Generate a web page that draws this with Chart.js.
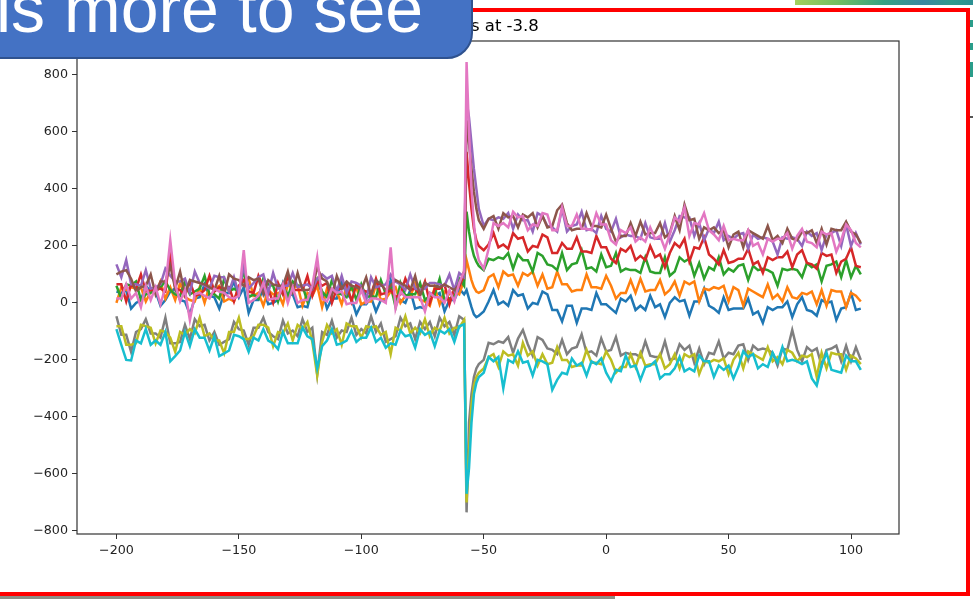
<!DOCTYPE html>
<html>
<head>
<meta charset="utf-8">
<title>Trials at -3.8</title>
<script src="https://cdn.jsdelivr.net/npm/chart.js@4.4.1/dist/chart.umd.min.js"></script>
<style>
  html, body { margin: 0; padding: 0; background: #fff; overflow: hidden; }
  .page { position: relative; width: 973px; height: 599px; overflow: hidden; background: #fff; }
  .chart-box { position: absolute; left: 0; top: 0; width: 973px; height: 599px; }
  .red-frame { position: absolute; left: -10px; top: 8px; width: 980px; height: 588px; box-sizing: border-box; border: 4px solid #ff0000; }
  .callout { position: absolute; left: -40px; top: -40px; width: 513px; height: 99px; box-sizing: border-box; background: #4472c4; border: 2px solid #2f528f; border-radius: 26px; }
  .callout-text { position: absolute; left: -4px; top: -26px; font: 68px/68px "Liberation Sans", Arial, sans-serif; color: #fff; white-space: nowrap; }
  .strip-top { position: absolute; left: 795px; top: 0; width: 178px; height: 5px;
    background: linear-gradient(to right, #a3d05c 0%, #6fbf62 25%, #35a283 50%, #3b87a0 72%, #2f9b8c 88%, #2b8f92 100%); }
  .strip-bottom { position: absolute; left: 0; top: 596px; width: 615px; height: 3px; background: #8e8e86; }
  .edge { position: absolute; left: 970px; width: 3px; background: #2a9d8a; }
</style>
</head>
<body>
<div class="page">
  <div class="chart-box"><canvas id="tracesChart"></canvas></div>
  <div class="red-frame"></div>
  <div class="callout"></div>
  <div class="callout-text">is more to see</div>
  <div class="strip-top"></div>
  <div class="strip-bottom"></div>
  <div class="edge" style="top:20px;height:7px"></div>
  <div class="edge" style="top:43px;height:7px"></div>
  <div class="edge" style="top:62px;height:15px"></div>
  <div class="edge" style="top:116px;height:2px;background:#555"></div>
</div>
<script>
const sampleTimes = [
  -200, -198, -196, -194, -192, -190, -188, -186, -184, -182, -180, -178,
  -176, -174, -172, -170, -168, -166, -164, -162, -160, -158, -156, -154,
  -152, -150, -148, -146, -144, -142, -140, -138, -136, -134, -132, -130,
  -128, -126, -124, -122, -120, -118, -116, -114, -112, -110, -108, -106,
  -104, -102, -100, -98, -96, -94, -92, -90, -88, -86, -84, -82,
  -80, -78, -76, -74, -72, -70, -68, -66, -64, -62, -60, -58,
  -57, -56, -55, -54, -53, -52,
  -50, -48, -46, -44, -42, -40, -38, -36, -34, -32, -30, -28, -26,
  -24, -22, -20, -18, -16, -14, -12, -10, -8, -6, -4, -2, 0,
  2, 4, 6, 8, 10, 12, 14, 16, 18, 20, 22, 24, 26,
  28, 30, 32, 34, 36, 38, 40, 42, 44, 46, 48, 50, 52,
  54, 56, 58, 60, 62, 64, 66, 68, 70, 72, 74, 76, 78,
  80, 82, 84, 86, 88, 90, 92, 94, 96, 98, 100, 102, 104
];

const traceBlue = [
  40, 35, 45, -20, 0, 10, 60, 40, 40, -10, 10, 40,
  50, 10, 5, -40, 15, 20, 65, 25, 20, -20, 35, 35,
  75, 20, 55, -35, 10, 10, 50, -5, 0, 10, 70, 25,
  30, -15, -10, -15, 50, 65, 40, -20, 15, 15, 75, 30,
  15, -40, -5, -5, 20, -30, 10, 10, 80, 0, 10, 0,
  45, -20, -15, -20, 35, 25, 35, -30, 10, 10, 50, 30,
  45, 15, -15, -40, -50, -45,
  -30, 5, 45, -5, 5, -10, 45, 25, 30, -20, 0, -5, 40,
  30, -25, -25, -65, -10, -10, -70, -20, -20, -25, 35, -5, -5,
  -20, -35, 15, 5, 25, -25, -10, -25, 25, -15, -5, -50, 0,
  20, 5, 10, -45, 5, 5, 50, -10, -20, -35, 20, -25, -20,
  -20, -20, 15, -40, -30, -70, -15, -25, -15, -15, 5, -50, -5,
  20, -25, -30, -45, 10, 0, 5, -60, -20, -15, 35, -25, -20
];

const traceOrange = [
  0, 55, 45, 55, 50, 55, 5, 40, 35, 75, 15, 55,
  10, 70, 20, 10, 5, 55, 0, 60, 50, 60, 5, 15,
  5, 60, 75, 85, 25, 35, -10, 45, 30, 35, -5, 65,
  50, 60, -10, 35, 25, 60, -15, 50, 35, 40, -5, 60,
  45, 55, -5, 5, 5, 65, 10, 15, 40, 55, 0, 25,
  20, 70, 10, 5, -10, 55, -5, 40, 30, 40, 30, 80,
  150, 115, 80, 55, 40, 35,
  45, 90, 100, 55, 110, 95, 100, 60, 105, 95, 110, 60, 100,
  50, 55, 110, 65, 65, 40, 45, 45, 100, 55, 55, 50, 95,
  60, 15, 35, 35, 80, 35, 85, 40, 45, 45, 80, 30, 45,
  75, 25, 75, 65, 75, 5, 50, 45, 55, 50, 60, 5, 55,
  45, -10, 50, 40, 30, 20, 65, 15, 30, 5, 55, 20, 15,
  35, 30, 40, -5, 45, -10, 45, 40, 40, -15, 35, 25, 5
];

const traceGreen = [
  60, 15, 65, 60, 75, 10, 30, 35, 50, 55, 75, 45,
  30, 25, 75, 30, 40, 50, 95, 30, 30, 15, 85, 40,
  50, 40, 115, 20, 30, 15, 85, 65, 60, 5, 65, 20,
  75, 60, 60, 5, 60, 85, 40, 20, 80, 35, 30, 20,
  60, 10, 65, 20, 25, 20, 80, 30, 60, -15, 70, 25,
  30, 30, 70, 10, 25, 30, 85, 10, 15, 25, 85, 60,
  320, 250, 200, 165, 145, 130,
  115, 155, 150, 160, 155, 175, 120, 170, 150, 150, 110, 175, 165,
  135, 130, 115, 175, 115, 135, 140, 185, 120, 125, 110, 170, 125,
  130, 175, 110, 120, 115, 115, 105, 160, 110, 105, 105, 160, 95,
  110, 160, 145, 155, 95, 140, 85, 125, 115, 160, 100, 120, 110,
  130, 135, 80, 130, 115, 120, 115, 105, 60, 120, 115, 120, 115,
  90, 140, 125, 135, 75, 130, 135, 145, 90, 150, 90, 130, 100
];

const traceRed = [
  65, 65, 5, 65, 50, 100, 40, 45, 45, 50, 40, 170,
  50, 45, 25, 75, 25, 30, 45, 95, 40, 55, 50, 55,
  5, 60, 80, 40, 35, 95, 55, 50, 0, 70, 30, 95,
  45, 45, 45, 95, 25, 75, 60, 70, 0, 50, 50, 70,
  5, 65, 45, 40, 30, 85, 30, 35, 45, 20, 30, 85,
  45, 50, 30, 75, 0, 50, 50, 65, -5, 50, 55, 100,
  530, 420, 330, 260, 220, 200,
  185, 205, 245, 195, 205, 190, 245, 225, 230, 180, 200, 195, 240,
  230, 175, 175, 210, 190, 190, 230, 180, 180, 175, 235, 195, 195,
  155, 140, 190, 180, 200, 150, 165, 150, 200, 160, 170, 125, 175,
  210, 195, 225, 145, 195, 190, 230, 170, 155, 135, 185, 140, 145,
  155, 155, 190, 135, 145, 105, 160, 150, 160, 160, 180, 125, 170,
  185, 140, 135, 120, 175, 165, 170, 105, 145, 155, 195, 130, 125
];

const tracePurple = [
  135, 90, 150, 65, 65, 60, 115, 50, 55, 65, 120, 95,
  75, 75, 85, 35, 110, 70, 60, 50, 95, 90, 90, 40,
  90, 30, 130, 50, 70, 90, 100, 35, 105, 50, 60, 60,
  105, 55, 60, 65, 50, 85, 100, 85, 95, 40, 95, 35,
  75, 70, 60, 10, 90, 55, 60, 65, 100, 75, 65, 45,
  100, 50, 45, 50, 70, 70, 65, 60, 100, 45, 105, 90,
  710, 650, 560, 470, 400, 330,
  270, 295, 290, 300, 295, 315, 260, 310, 290, 290, 250, 315, 305,
  270, 265, 250, 330, 250, 270, 275, 320, 255, 260, 245, 305, 260,
  250, 295, 230, 240, 235, 235, 225, 280, 230, 225, 225, 280, 215,
  255, 305, 300, 300, 235, 280, 220, 260, 245, 285, 220, 235, 225,
  240, 245, 190, 240, 225, 230, 225, 215, 170, 230, 225, 230, 225,
  200, 250, 235, 245, 185, 240, 245, 255, 200, 275, 200, 245, 205
];

const traceBrown = [
  100, 110, 115, 85, 40, 55, 60, 100, 30, 75, 75, 130,
  50, 110, 30, 80, 75, 70, 65, 55, 45, 95, 30, 100,
  85, 80, 60, 90, 80, 85, 30, 80, 65, 60, 60, 110,
  40, 105, 45, 45, 50, 125, 85, 75, 25, 95, 50, 75,
  60, 55, 45, 90, 25, 80, 65, 45, 60, 80, 70, 60,
  45, 95, 25, 70, 60, 60, 55, 65, 55, 45, 65, 110,
  640, 560, 470, 390, 330, 290,
  260, 295, 305, 260, 315, 300, 305, 265, 310, 300, 315, 265, 305,
  265, 270, 325, 345, 280, 255, 260, 260, 315, 270, 270, 265, 310,
  260, 215, 235, 235, 280, 235, 285, 240, 245, 245, 280, 230, 245,
  305, 255, 345, 290, 295, 225, 265, 255, 265, 245, 255, 195, 240,
  250, 195, 255, 245, 235, 225, 270, 220, 235, 210, 260, 225, 220,
  250, 245, 255, 210, 260, 205, 260, 255, 255, 285, 250, 240, 210
];

const tracePink = [
  15, 15, 65, 15, 35, -15, 60, 10, 55, -5, 55, 220,
  65, 5, 45, -60, 30, 35, 25, 15, 50, 40, 35, 20,
  15, 25, 185, 0, 10, 25, 70, 10, 15, 15, 65, 0,
  55, 0, 10, 10, 60, 160, 15, 5, 50, 35, 40, -5,
  0, 0, 45, 0, 15, 15, 10, 0, 195, -20, 40, 20,
  20, 20, 20, -30, 35, 20, 20, 0, 45, 5, 70, 110,
  845, 600, 400, 280, 190, 150,
  120, 190, 280, 270, 280, 265, 320, 300, 305, 255, 275, 270, 315,
  310, 255, 255, 335, 270, 270, 310, 260, 260, 255, 315, 275, 275,
  220, 205, 255, 245, 265, 215, 230, 215, 265, 225, 235, 190, 240,
  300, 285, 335, 235, 280, 275, 315, 255, 240, 220, 270, 220, 225,
  220, 220, 255, 200, 210, 170, 225, 215, 225, 225, 245, 190, 235,
  260, 215, 210, 195, 250, 240, 245, 180, 220, 275, 255, 210, 195
];

const traceGray = [
  -47, -112, -112, -172, -102, -92, -57, -107, -107, -122, -52, -142,
  -142, -137, -77, -127, -57, -82, -77, -132, -102, -147, -137, -127,
  -67, -92, -97, -147, -87, -87, -52, -102, -117, -127, -62, -107,
  -97, -117, -57, -102, -87, -250, -102, -112, -62, -122, -97, -102,
  -52, -112, -92, -107, -47, -102, -72, -137, -127, -117, -52, -82,
  -72, -127, -67, -92, -67, -117, -52, -82, -67, -112, -47, -60,
  -735, -420, -320, -260, -230, -215,
  -200, -140, -145, -135, -140, -120, -175, -125, -95, -145, -185, -120, -130,
  -160, -165, -180, -130, -180, -160, -155, -110, -175, -170, -185, -125, -170,
  -165, -120, -185, -175, -180, -180, -190, -135, -185, -190, -190, -135, -200,
  -195, -145, -165, -150, -210, -160, -215, -175, -180, -135, -195, -175, -180,
  -150, -145, -200, -150, -165, -160, -165, -175, -220, -160, -165, -95, -165,
  -205, -155, -170, -160, -220, -165, -160, -150, -205, -150, -205, -155, -200
];

const traceOlive = [
  -82, -82, -147, -147, -142, -77, -82, -87, -142, -97, -102, -122,
  -172, -102, -112, -92, -107, -52, -117, -107, -132, -132, -177, -102,
  -102, -52, -127, -127, -117, -77, -77, -87, -152, -102, -107, -72,
  -132, -77, -92, -67, -137, -255, -137, -77, -107, -92, -147, -72,
  -82, -82, -122, -82, -87, -82, -112, -102, -180, -87, -97, -47,
  -107, -87, -107, -57, -117, -87, -97, -52, -107, -87, -87, -60,
  -700, -520, -360, -290, -260, -245,
  -230, -190, -180, -225, -170, -185, -180, -220, -140, -185, -170, -220, -180,
  -215, -210, -155, -200, -200, -225, -220, -220, -165, -210, -210, -215, -170,
  -200, -245, -225, -225, -180, -225, -175, -220, -215, -215, -180, -230, -215,
  -180, -230, -180, -190, -180, -250, -205, -210, -200, -205, -195, -250, -200,
  -175, -230, -170, -180, -190, -200, -155, -205, -190, -215, -165, -175, -205,
  -185, -190, -180, -260, -175, -230, -175, -180, -180, -235, -185, -195, -215
];

const traceCyan = [
  -92, -147, -200, -202, -132, -142, -92, -147, -132, -147, -102, -205,
  -187, -167, -102, -152, -92, -122, -122, -167, -117, -187, -177, -167,
  -112, -117, -127, -172, -122, -132, -92, -132, -142, -162, -102, -142,
  -142, -142, -87, -117, -127, -230, -152, -132, -92, -147, -142, -132,
  -97, -137, -122, -122, -87, -137, -122, -157, -142, -147, -97, -117,
  -112, -157, -92, -112, -102, -152, -97, -107, -92, -137, -82, -75,
  -670, -580, -420, -320, -280, -260,
  -245, -190, -205, -190, -300, -200, -210, -170, -210, -205, -255, -200, -205,
  -215, -305, -270, -245, -250, -195, -220, -210, -255, -205, -215, -195, -245,
  -275, -235, -240, -185, -225, -220, -270, -225, -220, -205, -265, -250, -250,
  -230, -190, -240, -230, -240, -185, -205, -205, -260, -220, -235, -220, -265,
  -225, -170, -190, -180, -230, -215, -225, -175, -210, -155, -205, -200, -205,
  -215, -205, -265, -290, -220, -175, -235, -240, -245, -185, -205, -205, -235
];

const xTicks = [-200, -150, -100, -50, 0, 50, 100];
const yTicks = [-800, -600, -400, -200, 0, 200, 400, 600, 800];

const traces = [traceBlue, traceOrange, traceGreen, traceRed, tracePurple,
  traceBrown, tracePink, traceGray, traceOlive, traceCyan];
const traceColors = ["#1f77b4", "#ff7f0e", "#2ca02c", "#d62728", "#9467bd",
  "#8c564b", "#e377c2", "#7f7f7f", "#bcbd22", "#17becf"];

const minusLabel = (v) => (v < 0 ? "\u2212" + Math.abs(v) : String(v));

// box round the plot, all four sides
const axesFrame = {
  id: "axesFrame",
  afterDatasetsDraw(chart) {
    const { ctx, chartArea: a } = chart;
    ctx.save();
    ctx.strokeStyle = "#333";
    ctx.lineWidth = 1.2;
    ctx.strokeRect(a.left, a.top, a.right - a.left, a.bottom - a.top);
    ctx.restore();
  },
};

const tickFont = { family: "DejaVu Sans", size: 12.7 };

const ctx = document.getElementById("tracesChart").getContext("2d");
const tracesChart = new Chart(ctx, {
  type: "line",
  data: {
    labels: sampleTimes,
    datasets: traces.map((trace, i) => ({
      data: trace,
      borderColor: traceColors[i],
      borderWidth: 2.5,
      pointRadius: 0,
      fill: false,
      order: traces.length - i,
    })),
  },
  options: {
    responsive: true,
    maintainAspectRatio: false,
    animation: false,
    layout: { padding: { left: 0, right: 74, top: 0, bottom: 0 } },
    plugins: {
      legend: { display: false },
      tooltip: { enabled: false },
      title: {
        display: true,
        text: "Trials at -3.8",
        fullSize: false,
        color: "#000",
        font: { family: "DejaVu Sans", size: 16.5, weight: "normal", lineHeight: 1.2 },
        padding: { top: 17, bottom: 4.2 },
      },
    },
    scales: {
      x: {
        type: "linear",
        min: -216.1,
        max: 119.6,
        afterBuildTicks: (axis) => { axis.ticks = xTicks.map((v) => ({ value: v })); },
        afterFit: (axis) => { axis.height = 65; },
        grid: { drawOnChartArea: false, drawTicks: true, tickLength: 5, color: "#333" },
        border: { display: false },
        ticks: { color: "#222", font: tickFont, padding: 4, autoSkip: false, maxRotation: 0, callback: minusLabel },
      },
      y: {
        min: -811,
        max: 919,
        afterBuildTicks: (axis) => { axis.ticks = yTicks.map((v) => ({ value: v })); },
        afterFit: (axis) => { axis.width = 77; },
        grid: { drawOnChartArea: false, drawTicks: true, tickLength: 5, color: "#333" },
        border: { display: false },
        ticks: { color: "#222", font: tickFont, padding: 4, autoSkip: false, callback: minusLabel },
      },
    },
  },
  plugins: [axesFrame],
});
</script>
</body>
</html>
